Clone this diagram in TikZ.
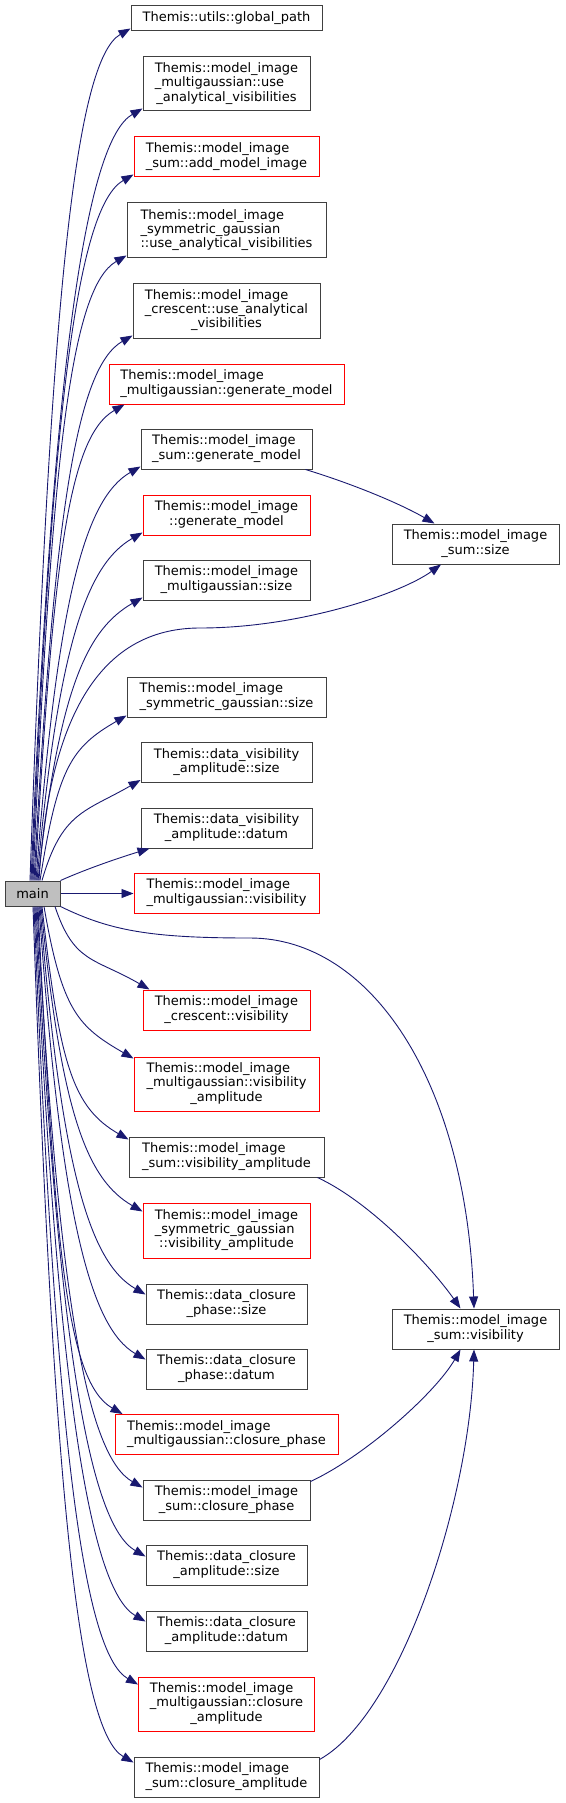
\documentclass[tikz,border=0pt]{standalone}
\usepackage{fontspec}
\setmainfont{DejaVu Sans}
\usepackage{xcolor}
\usepackage{tikz}
\usetikzlibrary{
  arrows.meta,
  positioning
}
\definecolor{edgeblue}{HTML}{191970}
\definecolor{boxgrey}{HTML}{404040}
\definecolor{boxred}{HTML}{FF0000}
\definecolor{mainfill}{HTML}{BFBFBF}
\newcommand{\fnlabel}[2]{\begin{tabular}{@{}l@{}}#1\\\multicolumn{1}{@{}c@{}}{#2}\end{tabular}}
\tikzset{
  fn/.style={rectangle, draw=boxgrey, line width=1pt, inner sep=0pt, text=black,
    font=\fontsize{13pt}{14.3pt}\selectfont},
  call/.style={draw=edgeblue, line width=0.9pt, -{Triangle[length=12pt,width=9pt]}}
}

\begin{document}
\begin{tikzpicture}[x=1pt, y=1pt]
  \useasboundingbox (0,0) rectangle (565,-1803);
  % callees, one column
  \foreach \n/\y/\w/\h/\c/\t in {
    gp/18.5/191/25/boxgrey/{Themis::utils::global\_path},
    mgu/84/167/54/boxgrey/{\fnlabel{Themis::model\_image\\\_multigaussian::use}{\_analytical\_visibilities}},
    sam/157/185/40/boxred/{\fnlabel{Themis::model\_image}{\_sum::add\_model\_image}},
    sgu/230.5/199/55/boxgrey/{\fnlabel{Themis::model\_image\\\_symmetric\_gaussian}{::use\_analytical\_visibilities}},
    cru/310.5/187/55/boxgrey/{\fnlabel{Themis::model\_image\\\_crescent::use\_analytical}{\_visibilities}},
    mgg/384/235/40/boxred/{\fnlabel{Themis::model\_image}{\_multigaussian::generate\_model}},
    sgm/449/171/40/boxgrey/{\fnlabel{Themis::model\_image}{\_sum::generate\_model}},
    mig/515/167/40/boxred/{\fnlabel{Themis::model\_image}{::generate\_model}},
    mgs/580/167/40/boxgrey/{\fnlabel{Themis::model\_image}{\_multigaussian::size}},
    sgs/697/199/40/boxgrey/{\fnlabel{Themis::model\_image}{\_symmetric\_gaussian::size}},
    dvas/762.5/171/40/boxgrey/{\fnlabel{Themis::data\_visibility}{\_amplitude::size}},
    dvad/828/171/40/boxgrey/{\fnlabel{Themis::data\_visibility}{\_amplitude::datum}},
    mgv/893/185/40/boxred/{\fnlabel{Themis::model\_image}{\_multigaussian::visibility}},
    crv/1010/167/40/boxred/{\fnlabel{Themis::model\_image}{\_crescent::visibility}},
    mgva/1084/185/54/boxred/{\fnlabel{Themis::model\_image\\\_multigaussian::visibility}{\_amplitude}},
    sva/1157/195/40/boxgrey/{\fnlabel{Themis::model\_image}{\_sum::visibility\_amplitude}},
    sgva/1230.5/167/55/boxred/{\fnlabel{Themis::model\_image\\\_symmetric\_gaussian}{::visibility\_amplitude}},
    dcps/1304/161/40/boxgrey/{\fnlabel{Themis::data\_closure}{\_phase::size}},
    dcpd/1369/161/40/boxgrey/{\fnlabel{Themis::data\_closure}{\_phase::datum}},
    mgcp/1434.5/223/40/boxred/{\fnlabel{Themis::model\_image}{\_multigaussian::closure\_phase}},
    scp/1500/167/40/boxgrey/{\fnlabel{Themis::model\_image}{\_sum::closure\_phase}},
    dcas/1565/161/40/boxgrey/{\fnlabel{Themis::data\_closure}{\_amplitude::size}},
    dcad/1631/161/40/boxgrey/{\fnlabel{Themis::data\_closure}{\_amplitude::datum}},
    mgca/1704/176/54/boxred/{\fnlabel{Themis::model\_image\\\_multigaussian::closure}{\_amplitude}},
    sca/1777/185/40/boxgrey/{\fnlabel{Themis::model\_image}{\_sum::closure\_amplitude}}
  } {
    \node[fn, draw=\c, minimum width=\w pt, minimum height=\h pt] (\n) at (226.5,-\y) {\t};
  }
  \node[fn, fill=mainfill, minimum width=55pt, minimum height=25pt] (main) at (32.5,-893.5) {main};
  \node[fn, minimum width=167pt, minimum height=40pt] (ssize) at (475.5,-544)
    {\fnlabel{Themis::model\_image}{\_sum::size}};
  \node[fn, minimum width=167pt, minimum height=40pt] (svis) at (475.5,-1329)
    {\fnlabel{Themis::model\_image}{\_sum::visibility}};

  % calls upwards from main
  \foreach \tgt/\sx/\ex/\ey/\ang/\len in {
    gp/-2.5/0/3/88.0/580, mgu/-1.5/0/3/87.6/526, sam/-0.5/0/3/87.6/481,
    sgu/0.5/0/3/87.5/426, cru/1.5/0/3/86.9/372, mgg/2.5/16/0/86.8/325,
    sgm/3.5/0/3/85.7/283, mig/4.5/0/3/84.9/238, mgs/5.5/0/3/83.8/194,
    sgs/7.5/0/2/81.1/114, dvas/9.5/0/3/73.9/72
  } {
    \draw[call] ([xshift=\sx pt]main.north) to[out=\ang, in=210, out distance=\len pt, in distance=64pt]
      ([xshift=\ex pt, yshift=\ey pt]\tgt.south west);
  }
  % calls downwards from main
  \foreach \tgt/\sx/\ex/\ey/\ang/\len in {
    crv/22.5/7/0/-71.6/60, mgva/11.5/0/-2/-80.2/106, sva/9.5/0/-3/-83.7/160,
    sgva/8.5/0/-9/-84.4/209, dcps/7.5/0/-11/-85.4/265, dcpd/6.5/0/-11/-86.0/309,
    mgcp/5.5/8/0/-87.2/346, scp/4.5/0/-8/-86.9/396, dcas/3.5/0/-12/-87.2/443,
    dcad/2.5/0/-11/-87.4/487, mgca/1.5/0/-8/-87.7/530, sca/0.5/0/-6/-88.0/583
  } {
    \draw[call] ([xshift=\sx pt]main.south) to[out=\ang, in=150, out distance=\len pt, in distance=64pt]
      ([xshift=\ex pt, yshift=\ey pt]\tgt.north west);
  }
  \draw[call] (main.north east) to[out=24, in=197, out distance=30pt, in distance=30pt]
    ([xshift=9pt]dvad.south west);
  \draw[call] (main.east) -- (main.east -| mgv.west);

  % the two long ones to the right column
  \coordinate (ssbend) at (200,-628);
  \coordinate (svbend) at (250,-938);
  \draw[call] ([xshift=6.5pt]main.north) to[out=86.5, in=180, out distance=181pt, in distance=90pt] (ssbend)
    to[out=0, in=216, out distance=100pt, in distance=49pt] ([xshift=-34.5pt]ssize.south);
  \draw[call] (main.south east) to[out=-26, in=180, out distance=55pt, in distance=100pt] (svbend)
    to[out=0, in=92, out distance=120pt, in distance=229pt] ([xshift=-1.5pt]svis.north);

  % second level calls
  \draw[call] ([xshift=-7pt]sgm.south east) to[out=-17, in=150, out distance=50pt, in distance=40pt]
    ([xshift=-41pt]ssize.north);
  \draw[call] ([xshift=-7pt]sva.south east) to[out=-25, in=125, out distance=60pt, in distance=50pt]
    ([xshift=-15pt]svis.north);
  \draw[call] ([yshift=-2pt]scp.north east) to[out=25, in=-120, out distance=60pt, in distance=50pt]
    ([xshift=-15pt]svis.south);
  \draw[call] ([yshift=-3pt]sca.north east) to[out=29, in=-91.5, out distance=93pt, in distance=151pt]
    ([xshift=-1.5pt]svis.south);
\end{tikzpicture}
\end{document}
